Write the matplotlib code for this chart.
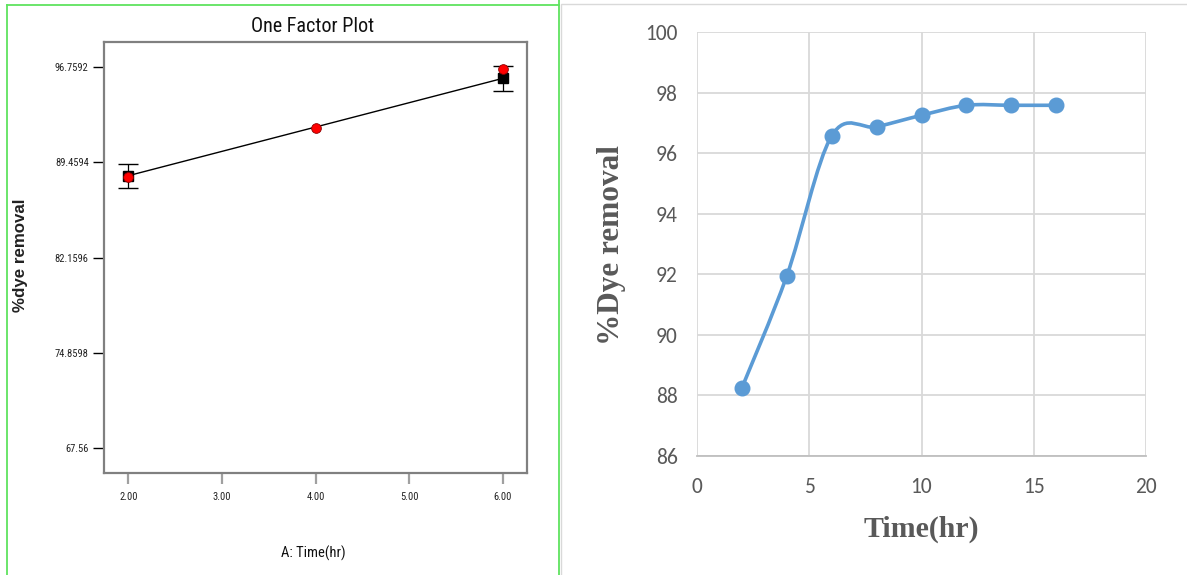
import numpy as np
import matplotlib
matplotlib.use("Agg")
import matplotlib.pyplot as plt
from matplotlib import font_manager
from matplotlib.lines import Line2D
from matplotlib.patches import Rectangle
from matplotlib.path import Path
from matplotlib.patches import PathPatch

# ---------------- data ----------------
# One-factor plot (design model)
factor_levels = [2.0, 4.0, 6.0]
observed_removal = [88.32, 92.06, 96.58]
design_points = [2.0, 6.0]
predicted_removal = [88.43, 95.89]
lsd_low = [87.46, 94.90]
lsd_high = [89.30, 96.86]
left_yticks = [67.56, 74.8598, 82.1596, 89.4594, 96.7592]
left_yticklabels = ["67.56", "74.8598", "82.1596", "89.4594", "96.7592"]
left_xticks = [2.0, 3.0, 4.0, 5.0, 6.0]
left_xticklabels = ["2.00", "3.00", "4.00", "5.00", "6.00"]

# Time-course experiment
time_hr = [2, 4, 6, 8, 10, 12, 14, 16]
dye_removal = [88.25, 91.95, 96.57, 96.87, 97.25, 97.58, 97.58, 97.58]
right_xticks = [0, 5, 10, 15, 20]
right_yticks = [86, 88, 90, 92, 94, 96, 98, 100]


def pick_font(candidates):
    for name in candidates:
        try:
            font_manager.findfont(name, fallback_to_default=False)
            return name
        except Exception:
            continue
    return "DejaVu Sans"


narrow = pick_font(["Liberation Sans Narrow", "Arial Narrow", "Roboto Condensed", "Liberation Sans"])
narrow_scale = 1.0 if "Narrow" in narrow or "Condensed" in narrow else 0.86
sans = pick_font(["Liberation Sans", "Arial"])
calib = pick_font(["Carlito", "Lato", "Open Sans"])
serif = pick_font(["Liberation Serif", "Times New Roman", "DejaVu Serif"])

W, H = 1187, 575
fig = plt.figure(figsize=(W / 100, H / 100), dpi=100)


def fx(px):
    return px / W


def fy(py):
    return 1 - py / H


# ---------------- frames ----------------
green = "#5fe35f"
fig.add_artist(Line2D([fx(7), fx(559)], [fy(5), fy(5)], color=green, lw=1.3))
fig.add_artist(Line2D([fx(7), fx(7)], [fy(5), fy(576)], color=green, lw=1.3))
fig.add_artist(Line2D([fx(559), fx(559)], [fy(0), fy(576)], color=green, lw=1.3))
fig.add_artist(Rectangle((fx(560.5), fy(600)), fx(700), fy(3.5) - fy(600),
                         fill=False, edgecolor="#d9d9d9", lw=1.0))

# ---------------- left: one factor plot ----------------
axL = fig.add_axes([fx(104), fy(473), fx(527 - 104), fy(42) - fy(473)])
axL.set_xlim(1.74, 6.26)
axL.set_ylim(65.64, 98.68)
for s in axL.spines.values():
    s.set_color("#808080")
    s.set_linewidth(1.6)

axL.plot(design_points, predicted_removal, color="black", lw=1.0, zorder=2)
pred = np.array(predicted_removal)
yerr = np.vstack([pred - np.array(lsd_low), np.array(lsd_high) - pred])
axL.errorbar(design_points, predicted_removal, yerr=yerr, fmt="none",
             ecolor="black", elinewidth=0.9, capsize=7, capthick=1.0, zorder=3)
axL.plot(design_points, predicted_removal, "s", color="black", ms=6.5, zorder=4)
axL.plot(factor_levels, observed_removal, "o", color="#ff0000",
         markeredgecolor="#8b0000", markeredgewidth=0.6, ms=7, zorder=5)

axL.set_yticks(left_yticks)
axL.set_yticklabels(left_yticklabels)
axL.set_xticks(left_xticks)
axL.set_xticklabels(left_xticklabels)
axL.tick_params(axis="y", direction="out", length=8, width=1.0, color="black",
                pad=3, labelsize=7.6, labelcolor="#222222")
axL.tick_params(axis="x", direction="out", length=8, width=1.6, color="#a0a0a0",
                pad=6, labelsize=7.6, labelcolor="#222222")
for lab in axL.get_xticklabels() + axL.get_yticklabels():
    lab.set_family([narrow, "DejaVu Sans"])
    if narrow_scale < 1:
        lab.set_fontsize(7.0)

fig.text(fx(313), fy(27), "One Factor Plot", ha="center", va="center",
         fontsize=14.5 if narrow_scale == 1 else 12.8, family=[narrow, "DejaVu Sans"],
         color="#111111")
fig.text(fx(313), fy(553), "A: Time(hr)", ha="center", va="center",
         fontsize=10.5 if narrow_scale == 1 else 9.4, family=[narrow, "DejaVu Sans"],
         color="#111111")
fig.text(fx(21), fy(255), "%dye removal", ha="center", va="center", rotation=90,
         fontsize=12.2, fontweight="bold", family=[sans, "DejaVu Sans"], color="#222222")

# ---------------- right: time course ----------------
axR = fig.add_axes([fx(697), fy(456), fx(1146 - 697), fy(32) - fy(456)])
axR.set_xlim(0, 20)
axR.set_ylim(86, 100)
axR.set_xticks(right_xticks)
axR.set_yticks(right_yticks)
axR.grid(True, color="#d9d9d9", lw=1.3)
axR.set_axisbelow(True)
for side in ("top", "right", "left"):
    axR.spines[side].set_visible(False)
axR.spines["bottom"].set_color("#bfbfbf")
axR.spines["bottom"].set_linewidth(1.3)
axR.tick_params(length=0, labelsize=15.5, labelcolor="#595959")
axR.tick_params(axis="y", pad=14)
axR.tick_params(axis="x", pad=15)
for lab in axR.get_xticklabels() + axR.get_yticklabels():
    lab.set_family([calib, "DejaVu Sans"])

# smoothed line through the points (Catmull-Rom style Bezier segments)
pts = np.column_stack([time_hr, dye_removal]).astype(float)
ext = np.vstack([pts[0], pts, pts[-1]])
verts = [tuple(pts[0])]
codes = [Path.MOVETO]
for i in range(1, len(ext) - 2):
    p0, p1, p2, p3 = ext[i - 1], ext[i], ext[i + 1], ext[i + 2]
    c1 = p1 + (p2 - p0) / 6.0
    c2 = p2 - (p3 - p1) / 6.0
    verts += [tuple(c1), tuple(c2), tuple(p2)]
    codes += [Path.CURVE4, Path.CURVE4, Path.CURVE4]
axR.add_patch(PathPatch(Path(verts, codes), facecolor="none", edgecolor="#5b9bd5",
                        lw=2.6, capstyle="round", joinstyle="round", zorder=3))
axR.plot(time_hr, dye_removal, "o", color="#5b9bd5", ms=10.5, zorder=4)

fig.text(fx(921), fy(529), "Time(hr)", ha="center", va="center", fontsize=21.5,
         fontweight="bold", family=[serif, "DejaVu Serif"], color="#595959")
fig.text(fx(612), fy(245), "%Dye removal", ha="center", va="center", rotation=90,
         fontsize=22.5, fontweight="bold", family=[serif, "DejaVu Serif"], color="#595959")

fig.savefig("out.png", dpi=100)
